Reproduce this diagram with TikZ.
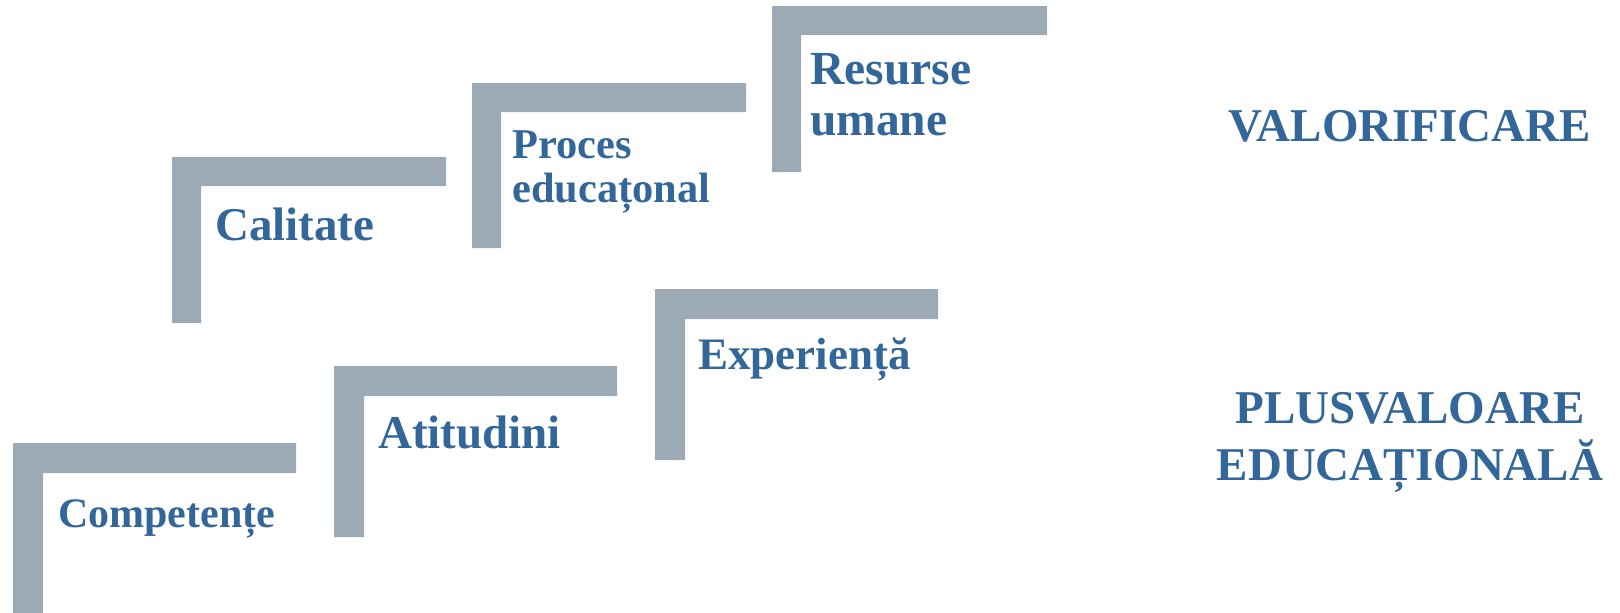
\documentclass[tikz,border=0pt]{standalone}
\usepackage{fontspec}
\setmainfont{Liberation Serif}
\definecolor{barc}{RGB}{156,170,182}
\definecolor{txtc}{RGB}{51,103,153}
\newcommand\stepL[5]{% left, top, right, inner x, bottom
  \fill[barc] (#1,#2) -- (#3,#2) -- (#3,{#2+#4-#1}) -- (#4,{#2+#4-#1}) -- (#4,#5) -- (#1,#5) -- cycle;}
\begin{document}
\begin{tikzpicture}[x=1pt,y=-1pt,
  lbl/.style={text=txtc, inner sep=0pt, anchor=base west, align=left},
  ttl/.style={text=txtc, inner sep=0pt, anchor=base, align=center, font=\bfseries\fontsize{47}{57}\selectfont}]
\useasboundingbox (0,0) rectangle (1620,613);
% step bars
\stepL{13}{443}{296}{43}{613}
\stepL{172}{157}{446}{201}{323}
\stepL{472}{83}{746}{501}{248}
\stepL{772}{6}{1047}{801}{172}
\stepL{334}{366}{617}{364}{537}
\stepL{655}{289}{938}{685}{460}
% labels (multi-line nodes: base anchor = last line's baseline)
\node[lbl, font=\bfseries\fontsize{42}{46}\selectfont] (comp) at (58,527) {Competențe};
\node[lbl, font=\bfseries\fontsize{47}{51}\selectfont] (cal) at (215,240) {Calitate};
\node[lbl, font=\bfseries\fontsize{42.4}{44.7}\selectfont] (proc) at (512,202.7) {Proces\\educațonal};
\node[lbl, font=\bfseries\fontsize{47.5}{51}\selectfont] (res) at (810,135) {Resurse\\umane};
\node[lbl, font=\bfseries\fontsize{47}{51}\selectfont] (atit) at (378,448) {Atitudini};
\node[lbl, font=\bfseries\fontsize{45}{48}\selectfont] (exp) at (698,369) {Experiență};
\node[ttl] (val) at (1410,141) {VALORIFICARE};
\node[ttl] (plus) at (1410,480) {PLUSVALOARE\\EDUCAȚIONALĂ};
\end{tikzpicture}
\end{document}
